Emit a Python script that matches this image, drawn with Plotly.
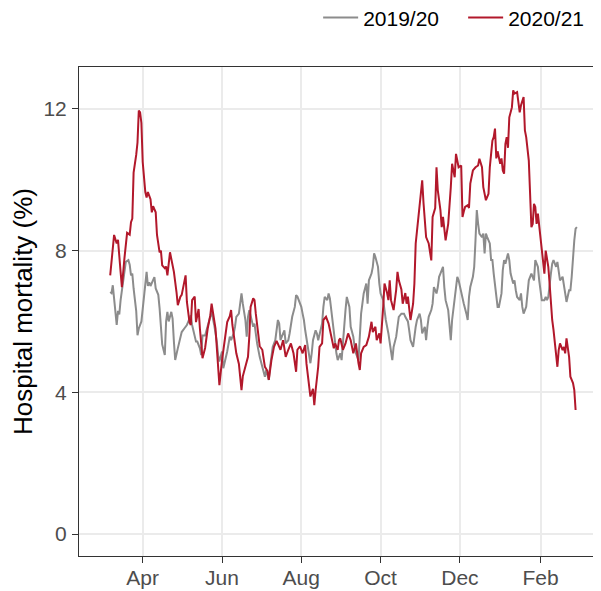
import pandas as pd
import plotly.graph_objects as go

# days since 1 April of each season, and hospital mortality (%)
day_1920 = [-25, -24, -23, -21, -20, -19, -18, -17, -15, -14, -13, -11, -10, -9, -8, -7, -5, -4, -3, -1,
            0, 1, 3, 4, 5, 6, 8, 9, 10, 12, 13, 14, 15, 17, 18, 19, 20, 22, 23, 24, 25, 27, 29, 30, 32,
            34, 35, 37, 38, 40, 41, 42, 44, 45, 46, 48, 50, 52, 53, 55, 57, 58, 59, 61, 62, 65, 66, 67,
            68, 70, 71, 72, 74, 75, 76, 77, 79, 80, 81, 82, 83, 85, 86, 87, 88, 90, 92, 93, 94, 95, 97,
            98, 99, 100, 102, 103, 104, 105, 106, 107, 109, 110, 112, 113, 114, 115, 117, 118, 119, 120,
            122, 123, 124, 125, 127, 128, 129, 130, 131, 133, 134, 135, 136, 138, 139, 140, 142, 143, 144,
            145, 147, 148, 149, 150, 152, 153, 154, 156, 157, 158, 159, 160, 162, 163, 164, 166, 167, 168,
            169, 170, 172, 173, 174, 176, 177, 178, 179, 181, 182, 183, 185, 186, 187, 189, 191, 192, 193,
            195, 196, 197, 199, 201, 202, 204, 205, 206, 208, 209, 210, 211, 213, 214, 215, 217, 218, 219,
            220, 222, 223, 224, 226, 227, 228, 229, 231, 232, 233, 235, 236, 237, 238, 240, 241, 242, 243,
            245, 246, 247, 249, 250, 251, 252, 254, 255, 256, 257, 258, 259, 261, 262, 263, 264, 265, 267,
            268, 269, 270, 272, 273, 274, 276, 277, 278, 279, 281, 282, 283, 285, 286, 287, 288, 290, 291,
            292, 293, 295, 296, 297, 299, 300, 301, 302, 304, 305, 306, 307, 309, 310, 311, 312, 314, 315,
            316, 318, 319, 320, 321, 323, 324, 325, 326, 328, 329, 330, 332, 333, 334]
mort_1920 = [6.83, 6.8, 7.02, 6.18, 5.9, 6.3, 6.2, 6.6, 7.12, 7.4, 7.68, 7.73, 7.6, 7.3, 7.35, 6.93, 6.3, 5.61, 5.8, 6.0,
             6.35, 6.73, 7.4, 7.0, 7.1, 7.0, 7.15, 7.25, 6.93, 6.75, 6.37, 5.8, 5.35, 5.05, 6.0, 6.27, 6.0, 6.27, 6.08, 5.43, 4.91, 5.24, 5.6, 5.7, 5.8,
             5.9, 5.99, 6.17, 5.9, 5.6, 5.43, 5.43, 5.24, 5.05, 5.6, 5.6, 5.9, 6.18, 6.27, 5.9, 5.43, 5.05, 4.87, 5.15, 4.68, 5.15, 5.43, 5.57,
             5.47, 5.66, 5.85, 6.13, 6.22, 6.5, 6.79, 6.5, 6.04, 5.57, 6.13, 6.32, 6.13, 5.85, 5.94, 5.66, 5.38, 5.0, 4.72, 4.63, 4.44, 4.63, 4.35,
             4.72, 5.1, 5.28, 5.47, 5.75, 6.04, 5.94, 5.47, 5.57, 5.75, 5.38, 5.47, 5.66, 5.94, 6.13, 6.41, 6.74, 6.7, 6.6,
             6.41, 6.22, 6.04, 5.75, 5.28, 5.1, 4.82, 5.1, 5.47, 5.75, 5.66, 5.47, 5.66, 5.94, 6.41, 6.69, 6.6, 6.79, 6.65,
             6.32, 5.85, 5.38, 5.1, 4.91, 5.1, 4.91, 5.47, 6.32, 6.69, 6.5, 6.41, 5.85, 5.57, 5.28, 5.1, 4.91, 5.57, 6.22,
             6.5, 6.79, 7.07, 6.5, 7.16, 7.35, 7.54, 7.92, 7.82, 7.54, 7.07, 6.79, 6.6, 6.32, 6.04, 5.66, 5.1, 4.91, 5.28,
             5.57, 5.85, 6.13, 6.22, 6.22, 6.13, 6.0, 5.75, 5.47, 5.28, 5.66, 5.85, 6.04, 6.22, 6.04, 5.66, 5.85, 5.47, 5.85,
             6.13, 6.32, 6.5, 6.97, 6.79, 6.97, 7.26, 7.35, 7.54, 6.97, 6.6, 6.32, 5.85, 5.47, 6.04, 6.7, 7.07, 7.26, 7.16,
             6.79, 6.6, 6.5, 6.22, 6.04, 6.69, 6.97, 7.26, 7.54, 8.29, 9.14, 8.76, 8.48, 8.38, 8.48, 7.92, 8.48, 8.38, 8.2,
             7.73, 7.73, 7.35, 6.6, 6.41, 6.41, 6.79, 7.45, 7.73, 7.63, 7.92, 7.73, 7.35, 7.07, 7.16, 6.88, 6.69, 6.6, 6.79,
             6.41, 6.22, 6.41, 6.79, 7.16, 7.35, 7.26, 7.16, 7.73, 7.54, 7.16, 6.79, 6.6, 6.6, 6.69, 6.6, 6.69, 7.35, 7.63,
             7.73, 7.54, 7.68, 7.45, 7.16, 7.26, 7.07, 6.79, 6.55, 6.88, 6.88, 7.26, 8.29, 8.62, 8.66]

day_2021 = [-25, -22, -20, -19, -17, -16, -14, -12, -10, -9, -8, -7, -5, -4, -3, -2, -1, 0, 2, 3, 4, 6, 7, 8,
            10, 11, 13, 14, 15, 17, 18, 19, 21, 24, 26, 27, 29, 30, 33, 34, 36, 37, 38, 40, 41, 43, 44, 46,
            48, 50, 52, 53, 56, 57, 59, 61, 63, 65, 67, 68, 69, 70, 72, 74, 76, 77, 79, 81, 82, 83, 85, 86,
            87, 89, 90, 92, 94, 96, 97, 99, 101, 103, 105, 106, 108, 110, 112, 114, 116, 118, 119, 121, 123,
            125, 126, 128, 129, 131, 132, 133, 135, 136, 138, 139, 141, 143, 145, 147, 148, 150, 151, 152,
            154, 156, 158, 160, 162, 164, 166, 167, 168, 170, 172, 174, 176, 177, 179, 180, 182, 183, 185,
            186, 188, 189, 190, 191, 193, 195, 196, 197, 199, 200, 202, 203, 204, 206, 208, 209, 210, 211,
            212, 214, 215, 216, 217, 218, 220, 221, 222, 223, 225, 226, 227, 229, 230, 231, 233, 235, 236,
            237, 238, 240, 241, 243, 245, 246, 247, 248, 250, 251, 252, 254, 256, 258, 259, 261, 262, 264,
            266, 267, 269, 270, 271, 272, 273, 275, 276, 277, 278, 279, 280, 281, 282, 284, 285, 286, 288,
            289, 290, 291, 293, 294, 295, 297, 298, 299, 300, 301, 302, 303, 304, 305, 307, 308, 309, 310,
            311, 312, 313, 314, 315, 316, 318, 319, 320, 321, 323, 324, 325, 326, 328, 329, 330, 331, 332, 333]
mort_2021 = [7.3, 8.44, 8.2, 8.3, 7.4, 6.97, 7.8, 8.5, 8.45, 8.8, 8.9, 10.2, 10.7, 11.05, 11.95, 11.9, 11.6, 10.5, 9.65, 9.5, 9.65, 9.45, 9.08, 9.25,
             9.08, 8.44, 7.95, 8.0, 7.58, 7.5, 7.55, 7.3, 7.95, 7.4, 6.83, 6.46, 6.7, 6.75, 7.3, 6.55, 5.98, 5.9, 6.6, 6.7, 5.98, 6.35, 5.8, 4.96,
             5.25, 5.8, 6.17, 6.5, 5.8, 5.25, 4.2, 4.9, 5.45, 5.98, 6.15, 6.32, 5.9, 5.57, 5.1, 4.8, 4.06, 4.45, 4.72, 5.0, 5.57, 6.41, 6.65, 6.6,
             6.22, 5.66, 5.3, 5.2, 4.72, 4.6, 4.35, 4.9, 5.28, 5.45, 5.28, 5.2, 5.47, 5.0, 5.2, 5.38, 5.1, 4.58, 5.2, 5.3, 5.1,
             5.33, 4.8, 4.16, 3.88, 4.1, 3.64, 4.05, 4.72, 5.28, 5.38, 6.04, 6.13, 5.94, 5.57, 5.24, 5.38, 5.2, 5.47, 5.52,
             5.2, 5.38, 5.66, 5.47, 5.1, 5.38, 4.82, 4.63, 5.1, 5.28, 5.33, 5.57, 5.99, 5.7, 5.85, 5.47, 5.66, 5.38, 6.41,
             7.07, 6.8, 6.6, 7.16, 6.6, 6.32, 6.9, 7.4, 7.16, 6.9, 6.5, 6.8, 6.5, 6.7, 6.04, 6.5, 7.07, 8.2, 8.57,
             8.75, 9.6, 9.98, 9.35, 8.76, 8.38, 8.2, 8.0, 7.72, 8.95, 9.2, 10.35, 9.7, 9.15, 8.66, 8.95, 8.29, 8.75, 9.2,
             9.79, 10.45, 10.07, 10.73, 10.35, 10.4, 8.95, 9.1, 9.23, 9.28, 9.2, 9.89, 10.26, 10.35, 10.4, 10.59, 10.35, 9.79, 9.42,
             9.6, 10.35, 11.1, 11.2, 11.44, 10.6, 10.8, 10.45, 10.6, 10.26, 10.17, 11.01, 11.2, 10.9, 11.76, 12.04, 12.52, 12.43, 12.47,
             12.24, 11.9, 12.1, 12.33, 11.39, 11.2, 10.54, 9.79, 8.66, 8.75, 9.32, 9.23, 8.75, 9.04, 8.66, 8.1, 7.63, 7.35, 8.0,
             7.82, 7.54, 7.07, 6.41, 6.04, 5.76, 5.0, 4.72, 5.19, 5.38, 5.19, 5.28, 5.1, 5.52, 5.0, 4.44, 4.35, 4.26, 4.06, 3.5]

season_names = ["2019/20", "2020/21"]
season_colors = ["#8C8C8C", "#B2182B"]

start = pd.Timestamp("2020-04-01")

fig = go.Figure()
for name, colour, days, vals in zip(season_names, season_colors,
                                    [day_1920, day_2021], [mort_1920, mort_2021]):
    dates = start + pd.to_timedelta(days, unit="D")
    fig.add_trace(go.Scatter(
        x=dates, y=vals, name=name, mode="lines",
        line=dict(color=colour, width=2),
    ))

font_family = "Liberation Sans, Arial, sans-serif"

fig.update_xaxes(
    type="date",
    range=["2020-02-12", "2021-03-18"],
    tick0="2020-04-01", dtick="M2", tickformat="%b",
    showgrid=True, gridcolor="#EBEBEB", gridwidth=1.5,
    showline=True, mirror=True, linecolor="#333333", linewidth=1.1,
    ticks="outside", ticklen=6, tickcolor="#333333", tickwidth=1.1,
    tickfont=dict(size=21, color="#4D4D4D", family=font_family),
    ticklabelstandoff=-3,
    zeroline=False, automargin=False,
)
fig.update_yaxes(
    range=[-0.62, 13.18],
    tick0=0, dtick=4,
    showgrid=True, gridcolor="#EBEBEB", gridwidth=1.5,
    showline=True, mirror=True, linecolor="#333333", linewidth=1.1,
    ticks="outside", ticklen=6, tickcolor="#333333", tickwidth=1.1,
    tickfont=dict(size=21, color="#4D4D4D", family=font_family),
    ticklabelstandoff=1,
    zeroline=False, automargin=False,
    title=dict(text="Hospital mortality (%)", standoff=4,
               font=dict(size=26, color="black", family=font_family)),
)

# the page puts the figure 8px in from the top-left corner of the window
fig.update_layout(
    width=593, height=583,
    margin=dict(l=71, r=2, t=59, b=35),
    paper_bgcolor="white", plot_bgcolor="white",
    font=dict(family=font_family, color="black"),
    showlegend=True,
    legend=dict(
        orientation="h", xref="container", x=0.523, xanchor="left",
        yref="container", y=0.983, yanchor="middle",
        itemwidth=35, entrywidth=95,
        font=dict(size=21, color="black", family=font_family),
        bgcolor="rgba(0,0,0,0)",
    ),
)

fig.write_html("out.html")
